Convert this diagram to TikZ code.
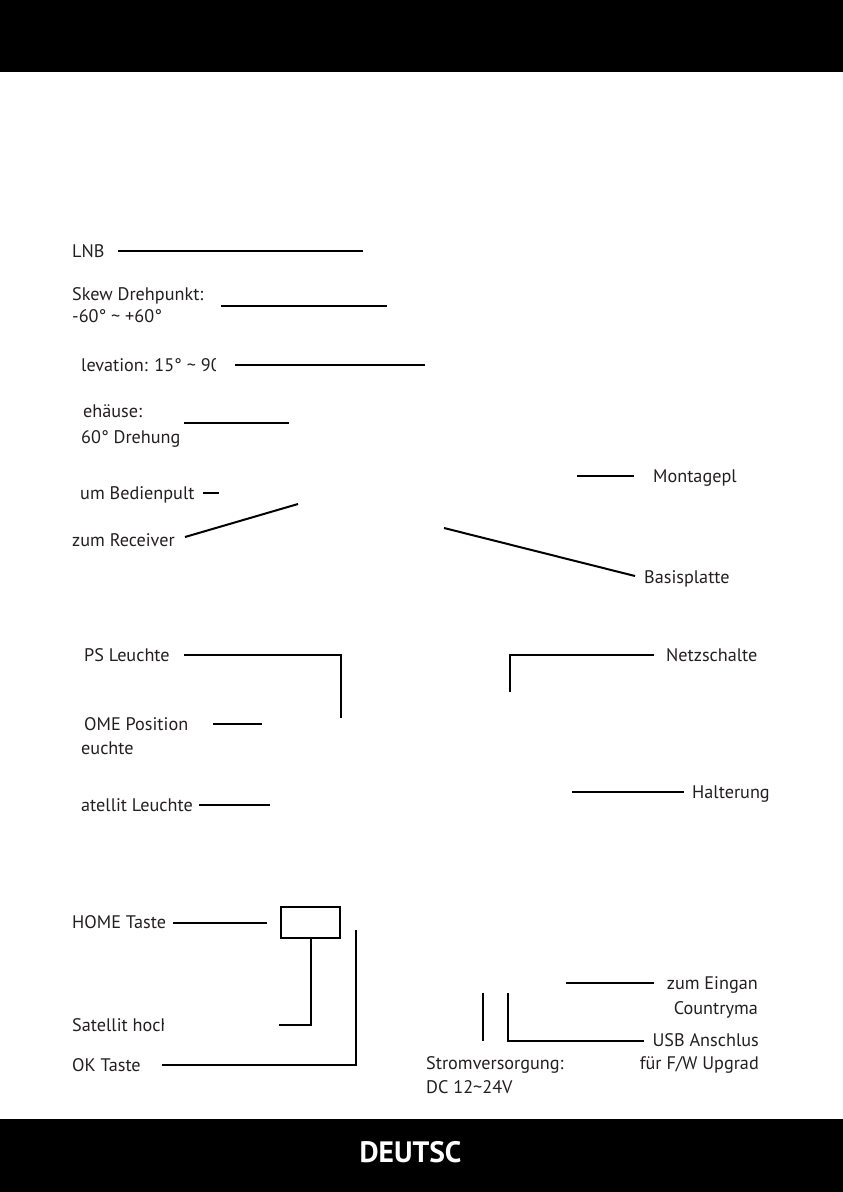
\documentclass[tikz,border=0pt]{standalone}
\usepackage{fontspec}
\setmainfont{PT Sans}
\definecolor{ink}{HTML}{231F20}
\tikzset{
  lbl/.style={inner sep=0pt, text=ink, font=\fontsize{18.2}{24}\selectfont, anchor=base west},
  lblr/.style={lbl, anchor=base east, align=right},
  lbll/.style={lbl, align=left},
  lead/.style={draw=black, line width=2pt},
}
\begin{document}
\begin{tikzpicture}[x=1pt,y=-1pt]
\useasboundingbox (0,0) rectangle (843,1192);
% bars
\fill[black] (0,0) rectangle (843,72);
\fill[black] (0,1119) rectangle (843,1192);
\node[inner sep=0pt, text=white, font=\fontsize{29.5}{30}\bfseries\selectfont] (title) at (410.5,1152) {DEUTSC};

% left labels (multi-line nodes: base = last line)
\node[lbl] (lnb) at (72,257) {LNB};
\node[lbll, font=\fontsize{18.2}{22}\selectfont] (skew) at (72,322) {Skew Drehpunkt:\\-60° \char`~{} +60°};
\begin{scope}
  \clip (60,340) rectangle (215,390);
  \node[lbl] (elev) at (81,371) {levation: 15° \char`~{} 90};
\end{scope}
\node[lbll, font=\fontsize{18.2}{26}\selectfont] (geh) at (81,443) {\hspace*{2pt}ehäuse:\\60° Drehung};
\node[lbl] (bed) at (80,499) {um Bedienpult};
\node[lbl] (rec) at (72,546) {zum Receiver};
\node[lbl] (gps) at (84,661) {PS Leuchte};
\begin{scope}
  \clip (60,700) rectangle (187,765);
  \node[lbll] (homepos) at (81,754) {\hspace*{3pt}OME Position\\euchte};
\end{scope}
\node[lbl] (satl) at (81,811) {atellit Leuchte};
\begin{scope}
  \clip (60,900) rectangle (165,945);
  \node[lbl] (homet) at (72,928) {HOME Taste};
\end{scope}
\begin{scope}
  \clip (60,1005) rectangle (163,1045);
  \node[lbl] (sath) at (72,1031) {Satellit hoch};
\end{scope}
\node[lbl] (ok) at (72,1071) {OK Taste};
\node[lbll] (strom) at (426,1093) {Stromversorgung:\\DC 12\char`~24V};

% right labels
\node[lbl] (mont) at (653,482) {Montagepl};
\node[lbl] (basis) at (644,583) {Basisplatte};
\node[lbl] (netz) at (666,661) {Netzschalte};
\node[lbl] (halt) at (692,798) {Halterung};
\node[lblr, font=\fontsize{18.2}{25}\selectfont] (eing) at (758,1014) {zum Eingan\\Countryma};
\node[lblr, font=\fontsize{18.2}{23}\selectfont] (usb) at (759,1069) {USB Anschlus\\für F/W Upgrad};

% button box
\node[draw=black, line width=2pt, minimum width=59pt, minimum height=31pt, inner sep=0pt] (btn) at (310.5,922.5) {};

% leader end points
\coordinate (lnbA) at (118,251);   \coordinate (lnbB) at (363,251);
\coordinate (skewA) at (221,306);  \coordinate (skewB) at (387,306);
\coordinate (elevA) at (235,365);  \coordinate (elevB) at (425,365);
\coordinate (gehA) at (184,423);   \coordinate (gehB) at (289,423);
\coordinate (bedA) at (203,493);   \coordinate (bedB) at (219,493);
\coordinate (recA) at (185,537);   \coordinate (recB) at (298,504);
\coordinate (montA) at (577,476);  \coordinate (montB) at (634,476);
\coordinate (basA) at (444,528);   \coordinate (basB) at (635,576);
\coordinate (gpsA) at (184,655);   \coordinate (gpsB) at (341,718);
\coordinate (hpA) at (213,724);    \coordinate (hpB) at (262,724);
\coordinate (satA) at (199,805);   \coordinate (satB) at (270,805);
\coordinate (netzA) at (654,655);  \coordinate (netzB) at (510,692);
\coordinate (haltA) at (572,792);  \coordinate (haltB) at (684,792);
\coordinate (homeA) at (173,923);  \coordinate (homeB) at (267,923);
\coordinate (shA) at (279,1025);
\coordinate (okA) at (162,1065);   \coordinate (okB) at (356,930);
\coordinate (eingA) at (566,983);  \coordinate (eingB) at (654,983);
\coordinate (pwrA) at (483,993);   \coordinate (pwrB) at (483,1041);
\coordinate (usbA) at (508,993);   \coordinate (usbB) at (644,1041);

% leaders
\draw[lead] (lnbA) -- (lnbB);
\draw[lead] (skewA) -- (skewB);
\draw[lead] (elevA) -- (elevB);
\draw[lead] (gehA) -- (gehB);
\draw[lead] (bedA) -- (bedB);
\draw[lead] (recA) -- (recB);
\draw[lead] (montA) -- (montB);
\draw[lead] (basA) -- (basB);
\draw[lead] (gpsA) -| (gpsB);
\draw[lead] (hpA) -- (hpB);
\draw[lead] (satA) -- (satB);
\draw[lead] (netzA) -| (netzB);
\draw[lead] (haltA) -- (haltB);
\draw[lead] (homeA) -- (homeB);
\draw[lead] (btn.south) |- (shA);
\draw[lead] (okA) -| (okB);
\draw[lead] (eingA) -- (eingB);
\draw[lead] (pwrA) -- (pwrB);
\draw[lead] (usbA) |- (usbB);
\end{tikzpicture}
\end{document}
